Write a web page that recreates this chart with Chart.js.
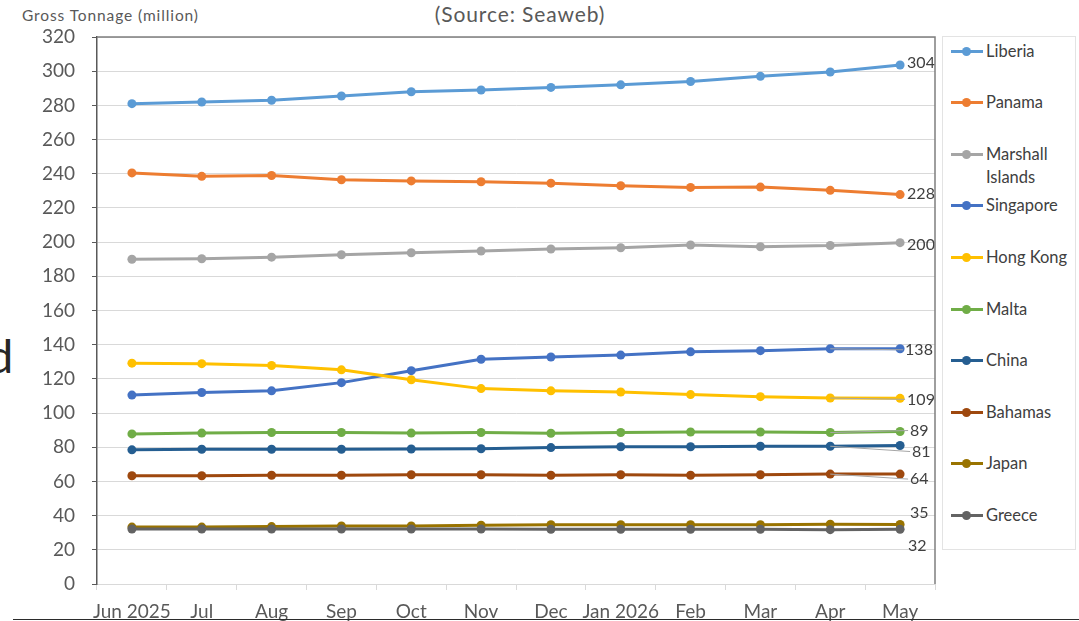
<!DOCTYPE html>
<html>
<head>
<meta charset="utf-8">
<script src="https://cdn.jsdelivr.net/npm/chart.js@4.4.1/dist/chart.umd.min.js"></script>
<style>
  html, body { margin: 0; padding: 0; background: #fff; overflow: hidden; }
  body { width: 1079px; height: 621px; position: relative; font-family: Lato, sans-serif; }
  #wrap { position: absolute; left: 0; top: 0; width: 940px; height: 640px; }
  #title { position: absolute; left: 370px; width: 300px; top: 1px; text-align: center; font-size: 21px; letter-spacing: 0.9px; color: #595959; }
  #ytitle { position: absolute; left: 22px; top: 6px; font-size: 15.5px; letter-spacing: 0.9px; color: #595959; }
  #cut { position: absolute; left: -13px; top: 327px; font-size: 47px; color: #262626; }
  #legend { position: absolute; left: 942px; top: 36px; width: 134px; height: 514px; border: 1px solid #e3e3e3; box-sizing: border-box; }
  .item { position: absolute; left: 8px; font-size: 16.5px; line-height: 23px; color: #404040; }
  .mark { position: absolute; left: 0; top: 10px; width: 32px; height: 3px; }
  .dot { position: absolute; left: 11px; top: -3px; width: 9px; height: 9px; border-radius: 50%; }
  .txt { margin-left: 35px; white-space: nowrap; }
  #rule { position: absolute; left: 13px; right: 0; top: 619px; height: 1px; background: #2b2b2b; }
</style>
</head>
<body>
<div id="ytitle">Gross Tonnage (million)</div>
<div id="title">(Source: Seaweb)</div>
<div id="cut">d</div>
<div id="wrap"><canvas id="chart"></canvas></div>
<div id="legend"></div>
<div id="rule"></div>
<script>
'use strict';
// ******* DATA ********
let months = ['Jun 2025', 'Jul', 'Aug', 'Sep', 'Oct', 'Nov', 'Dec', 'Jan 2026', 'Feb', 'Mar', 'Apr', 'May'];
let countries = ['Liberia', 'Panama', 'Marshall Islands', 'Singapore', 'Hong Kong', 'Malta', 'China', 'Bahamas', 'Japan', 'Greece'];

let liberia = [281, 282, 283, 285.5, 288, 289, 290.5, 292, 294, 297, 299.5, 303.6];
let panama = [240.5, 238.5, 239, 236.5, 235.8, 235.3, 234.5, 233, 232, 232.2, 230.3, 227.8];
let marshallIslands = [190, 190.3, 191.2, 192.6, 193.8, 194.8, 196, 196.7, 198.3, 197.3, 198, 199.7];
let singapore = [110.5, 112, 113, 117.8, 124.8, 131.5, 132.8, 133.9, 135.8, 136.5, 137.6, 137.6];
let hongKong = [129.2, 128.9, 127.8, 125.3, 119.5, 114.3, 113, 112.3, 110.8, 109.6, 108.8, 108.6];
let malta = [87.8, 88.3, 88.6, 88.6, 88.3, 88.6, 88.2, 88.6, 88.9, 88.9, 88.6, 89.2];
let china = [78.5, 78.8, 78.8, 78.8, 79, 79.1, 79.8, 80.3, 80.3, 80.6, 80.6, 81];
let bahamas = [63.3, 63.3, 63.6, 63.6, 63.9, 63.9, 63.6, 63.9, 63.6, 63.9, 64.3, 64.3];
let japan = [33.3, 33.3, 33.6, 33.9, 33.9, 34.4, 34.7, 34.7, 34.7, 34.7, 35, 34.8];
let greece = [32.2, 32.2, 32.2, 32.2, 32.2, 32.2, 32, 32, 32, 32, 31.8, 32];

let yTicks = [0, 20, 40, 60, 80, 100, 120, 140, 160, 180, 200, 220, 240, 260, 280, 300, 320];

// ******* STYLE ********
let colors = ['#5B9BD5', '#ED7D31', '#A5A5A5', '#4472C4', '#FFC000', '#70AD47', '#255E91', '#9E480E', '#997300', '#636363'];
// end label offsets (x, y) from the last point, and whether a leader line shows
let labelOffsets = [[7, -2], [7, -1], [7, 2], [5, 1], [7, 1], [10, -1], [12, 6], [10, 5], [10, -12], [8, 17]];
let leaders = [false, false, false, true, true, true, true, true, false, false];

let seriesValues = [liberia, panama, marshallIslands, singapore, hongKong, malta, china, bahamas, japan, greece];

// ******* PLUGINS ********
let frame = {
  id: 'frame',
  afterDraw(chart) {
    let a = chart.chartArea;
    let ctx = chart.ctx;
    ctx.save();
    ctx.strokeStyle = '#7f7f7f';
    ctx.lineWidth = 1.5;
    ctx.beginPath();
    ctx.moveTo(a.left, a.top);
    ctx.lineTo(a.right, a.top);
    ctx.lineTo(a.right, a.bottom);
    ctx.stroke();
    ctx.restore();
  }
};

let endLabels = {
  id: 'endLabels',
  afterDatasetsDraw(chart) {
    let ctx = chart.ctx;
    ctx.save();
    ctx.font = '16px Lato';
    ctx.textBaseline = 'middle';
    ctx.textAlign = 'left';
    chart.data.datasets.forEach((ds, i) => {
      let pts = chart.getDatasetMeta(i).data;
      let last = pts[pts.length - 1];
      let prev = pts[pts.length - 2];
      let off = labelOffsets[i];
      let tx = last.x + off[0];
      let ty = last.y + off[1];
      if (leaders[i]) {
        ctx.strokeStyle = '#a6a6a6';
        ctx.lineWidth = 1;
        ctx.beginPath();
        ctx.moveTo(prev.x, prev.y);
        ctx.lineTo(tx - 2, ty);
        ctx.stroke();
      }
      ctx.fillStyle = '#404040';
      ctx.fillText(Math.round(ds.data[ds.data.length - 1]), tx, ty);
    });
    ctx.restore();
  }
};

// ******* CHART ********
function renderChart() {
  let datasets = [];
  for (let i = 0; i < countries.length; i++) {
    datasets.push({
      label: countries[i],
      data: seriesValues[i],
      borderColor: colors[i],
      backgroundColor: colors[i],
      borderWidth: 3,
      pointRadius: 4.5,
      pointHoverRadius: 4.5,
      pointBorderWidth: 0,
      tension: 0,
      order: countries.length - i
    });
  }

  let chartObj = {
    type: 'line',
    data: { labels: months, datasets: datasets },
    options: {
      responsive: true,
      maintainAspectRatio: false,
      animation: false,
      layout: { padding: { top: 37, right: 5, left: 0, bottom: 0 } },
      plugins: {
        legend: { display: false },
        tooltip: { enabled: false }
      },
      scales: {
        x: {
          offset: true,
          grid: { display: true, drawOnChartArea: false, drawTicks: true, tickLength: 6, color: '#d9d9d9', offset: true },
          border: { color: '#d9d9d9', width: 1 },
          ticks: { color: '#595959', font: { family: 'Lato', size: 19 }, padding: 10, maxRotation: 0, autoSkip: false },
          afterFit(scale) { scale.height = 56; }
        },
        y: {
          min: 0,
          max: 320,
          afterBuildTicks(scale) { scale.ticks = yTicks.map(v => ({ value: v })); },
          grid: { color: '#d9d9d9', tickColor: '#595959', tickLength: 5, lineWidth: 1 },
          border: { color: '#595959', width: 1.5 },
          ticks: { color: '#595959', font: { family: 'Lato', size: 19 }, padding: 17 },
          afterFit(scale) { scale.width = 97; }
        }
      }
    },
    plugins: [frame, endLabels]
  };
  new Chart(document.getElementById('chart'), chartObj); // eslint-disable-line
}

function renderLegend() {
  let box = document.getElementById('legend');
  for (let i = 0; i < countries.length; i++) {
    let item = document.createElement('div');
    item.className = 'item';
    item.style.top = (14 - 11.5 + i * 51.6) + 'px';
    let words = countries[i] === 'Marshall Islands' ? 'Marshall<br>Islands' : countries[i];
    item.innerHTML = '<div class="mark" style="background:' + colors[i] + '"><div class="dot" style="background:' + colors[i] + '"></div></div><div class="txt">' + words + '</div>';
    box.appendChild(item);
  }
}

// ***** EXECUTABLE CODE ******
renderChart();
renderLegend();
</script>
</body>
</html>
